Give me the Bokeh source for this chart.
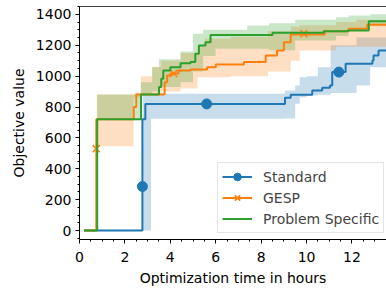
from bokeh.plotting import figure
from bokeh.models import Range1d, SingleIntervalTicker, LinearAxis, FixedTicker, Legend
from bokeh.embed import file_html
from bokeh.resources import INLINE

# ---------------- data ----------------
# Standard (blue)
std_x = [0.2, 2.77, 2.9, 9.05, 9.3, 10.25, 10.69, 11.03, 11.13, 11.72, 12.9, 12.95, 13.17, 13.6]
std_y = [0, 720, 820, 860, 880, 907, 925, 940, 1026, 1080, 1102, 1134, 1166, 1166]
std_bx = [0.2, 2.8, 3.15, 9.05, 9.5, 9.7, 10.0, 10.5, 11.06, 12.2, 12.8, 13.6]
std_lo = [0, 0, 724, 726, 821, 864, 875, 880, 890, 940, 1058, 1058]
std_hi = [0, 886, 886, 907, 940, 993, 1000, 1058, 1200, 1250, 1250, 1250]
std_mx = [2.77, 5.6, 11.42]
std_my = [285, 820, 1026]

# GESP (orange)
ges_x = [0.2, 0.74, 2.39, 2.5, 3.75, 3.86, 4.0, 4.36, 4.89, 5.62, 6.0, 7.24, 8.2, 8.7, 9.0, 9.3, 10.8, 11.86, 12.67, 13.6]
ges_y = [0, 720, 800, 881, 961, 1004, 1017, 1037, 1043, 1058, 1076, 1091, 1134, 1166, 1220, 1270, 1290, 1307, 1333, 1333]
ges_bx = [0.2, 0.76, 2.38, 2.7, 3.2, 3.6, 4.45, 5.2, 5.5, 6.65, 8.3, 9.3, 9.7, 11.3, 12.2, 13.6]
ges_lo = [0, 546, 860, 880, 880, 900, 920, 993, 993, 1000, 1030, 1100, 1166, 1190, 1190, 1190]
ges_hi = [0, 881, 890, 1000, 1060, 1100, 1150, 1200, 1242, 1253, 1290, 1320, 1330, 1350, 1365, 1365]
ges_mx = [0.74, 4.15, 9.88]
ges_my = [530, 1017, 1275]

# Problem Specific (green)
ps_x = [0.2, 0.78, 2.71, 3.5, 3.6, 3.69, 4.0, 4.45, 4.89, 5.1, 5.26, 5.55, 5.77, 8.5, 10.75, 11.8, 12.74, 13.6]
ps_y = [0, 720, 881, 929, 983, 1037, 1058, 1084, 1091, 1145, 1199, 1220, 1267, 1281, 1290, 1296, 1356, 1382]
ps_bx = [0.2, 0.78, 2.7, 3.2, 3.5, 4.45, 5.0, 5.45, 5.99, 7.39, 8.35, 9.5, 11.3, 11.85, 12.8, 13.6]
ps_lo = [0, 726, 881, 900, 930, 960, 1030, 1130, 1178, 1178, 1167, 1230, 1260, 1300, 1330, 1330]
ps_hi = [0, 881, 960, 1058, 1110, 1160, 1275, 1300, 1300, 1328, 1343, 1365, 1382, 1393, 1400, 1400]

labels = ["Standard", "GESP", "Problem Specific"]
x_label = "Optimization time in hours"
y_label = "Objective value"

# ---------------- style ----------------
BLUE, ORANGE, GREEN = "#1f77b4", "#ff7f0e", "#2ca02c"
FONT = "DejaVu Sans"
FS = "14px"

p = figure(width=386, height=291, output_backend="svg", toolbar_location=None,
           x_range=Range1d(0, 13.52), y_range=Range1d(-58, 1451),
           min_border_left=79, min_border_right=0, min_border_top=6, min_border_bottom=52)
p.outline_line_color = None
p.grid.visible = False
p.background_fill_color = "white"

# bands
p.varea_step(x=std_bx, y1=std_lo, y2=std_hi, step_mode="after", fill_color=BLUE, fill_alpha=0.25)
p.varea_step(x=ges_bx, y1=ges_lo, y2=ges_hi, step_mode="after", fill_color=ORANGE, fill_alpha=0.25)
p.varea_step(x=ps_bx, y1=ps_lo, y2=ps_hi, step_mode="after", fill_color=GREEN, fill_alpha=0.25)

# lines
r1 = p.step(std_x, std_y, mode="after", line_color=BLUE, line_width=2)
r1m = p.scatter(std_mx, std_my, marker="circle", size=10, fill_color=BLUE, line_color=BLUE)
r2 = p.step(ges_x, ges_y, mode="after", line_color=ORANGE, line_width=2)
r2m = p.scatter(ges_mx, ges_my, marker="x", size=10, line_color=ORANGE, line_width=1.6)
r3 = p.step(ps_x, ps_y, mode="after", line_color=GREEN, line_width=2)

legend = Legend(items=[(labels[0], [r1, r1m]), (labels[1], [r2, r2m]), (labels[2], [r3])],
                location=(138, 6), label_text_font=FONT, label_text_font_size=FS,
                glyph_width=30, glyph_height=19, label_height=19, spacing=2, padding=4,
                label_standoff=11, border_line_color="#cccccc", border_line_width=1,
                background_fill_alpha=0.8, margin=0)
p.add_layout(legend, "center")

# axes
xa = p.xaxis[0]
xa.ticker = SingleIntervalTicker(interval=2, num_minor_ticks=4)
ya = p.yaxis[0]
ya.ticker = SingleIntervalTicker(interval=200, num_minor_ticks=4)
for ax in (xa, ya):
    ax.major_label_text_font = FONT
    ax.major_label_text_font_size = FS
    ax.major_label_text_color = "black"
    ax.axis_label_text_font = FONT
    ax.axis_label_text_font_size = FS
    ax.axis_label_text_font_style = "normal"
    ax.axis_label_text_color = "black"
    ax.axis_line_color = "black"
    ax.major_tick_line_color = "black"
    ax.minor_tick_line_color = "black"
    ax.major_tick_out = 4
    ax.major_tick_in = 0
    ax.minor_tick_out = 2
    ax.minor_tick_in = 0
    ax.major_label_standoff = 4
xa.major_label_standoff = 8
xa.axis_label = x_label
ya.axis_label = y_label
xa.axis_label_standoff = 5
ya.axis_label_standoff = 6

top = LinearAxis(ticker=FixedTicker(ticks=[]), major_tick_out=0, major_tick_in=0,
                 minor_tick_out=0, minor_tick_in=0, axis_line_color="#444444",
                 major_label_text_font_size="0px")
p.add_layout(top, "above")

open("out.html", "w").write(file_html(p, INLINE))
